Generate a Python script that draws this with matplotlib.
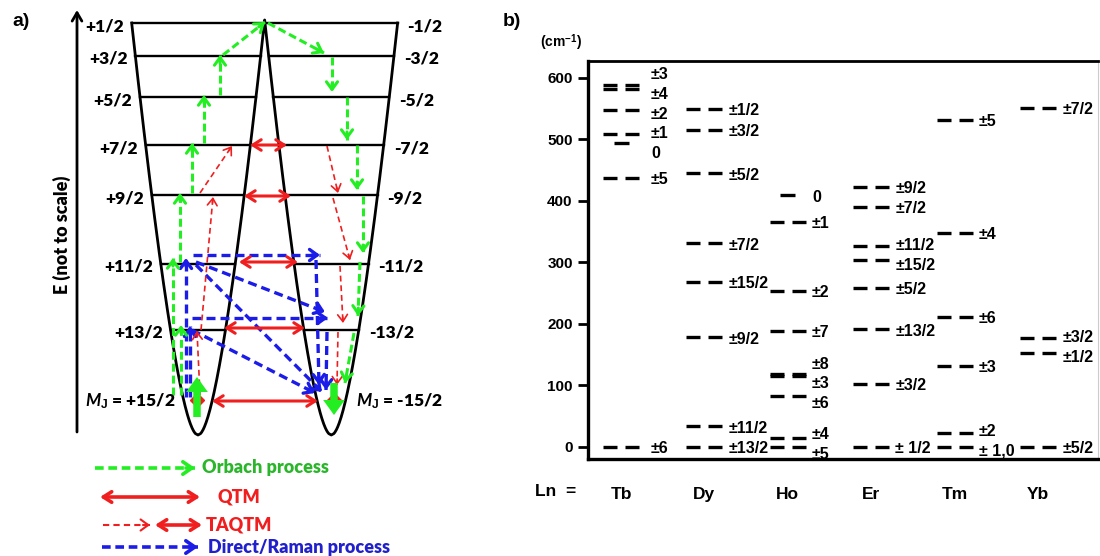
import matplotlib.pyplot as plt
import numpy as np

plt.rcParams['font.family'] = 'Liberation Sans'
plt.rcParams['font.weight'] = 'bold'
plt.rcParams['mathtext.fontset'] = 'custom'
plt.rcParams['mathtext.rm'] = 'Liberation Sans:bold'
plt.rcParams['mathtext.bf'] = 'Liberation Sans:bold'
plt.rcParams['mathtext.it'] = 'Lato:bold:italic'

# ---------------- b) crystal-field splitting per ion (cm-1) ----------------
ions = ['Tb', 'Dy', 'Ho', 'Er', 'Tm', 'Yb']
tb_E = [588, 582, 548, 509, 494, 437, 0]
tb_mj = ['±3', '±4', '±2', '±1', '0', '±5', '±6']
dy_E = [550, 516, 445, 331, 268, 178, 33, 0]
dy_mj = ['±1/2', '±3/2', '±5/2', '±7/2', '±15/2', '±9/2', '±11/2', '±13/2']
ho_E = [409, 366, 254, 189, 119, 115, 82, 14, 0]
ho_mj = ['0', '±1', '±2', '±7', '±8', '±3', '±6', '±4', '±5']
er_E = [423, 390, 326, 303, 259, 191, 102, 0]
er_mj = ['±9/2', '±7/2', '±11/2', '±15/2', '±5/2', '±13/2', '±3/2', '± 1/2']
tm_E = [532, 348, 211, 132, 23, 0]
tm_mj = ['±5', '±4', '±6', '±3', '±2', '± 1,0']
yb_E = [551, 177, 152, 0]
yb_mj = ['±7/2', '±3/2', '±1/2', '±5/2']
y_ticks = [0, 100, 200, 300, 400, 500, 600]

# ---------------- a) double-well scheme for Mj = +/-15/2 ground state ----------------
mj_up = ['+1/2', '+3/2', '+5/2', '+7/2', '+9/2', '+11/2', '+13/2', '+15/2']
mj_dn = ['-1/2', '-3/2', '-5/2', '-7/2', '-9/2', '-11/2', '-13/2', '-15/2']
level_h = [412, 379, 338, 290, 240, 171, 105, 37]   # not to scale

# arrows as (x0, h0, x1, h1)
orbach = [(173, 40, 173, 177), (181, 40, 181, 110), (180, 173, 180, 242),
          (192, 242, 192, 292), (204, 292, 204, 340), (220, 340, 220, 380),
          (223, 380, 265, 413), (268, 412, 324, 382), (332, 378, 332, 343),
          (347, 338, 347, 295), (357, 290, 357, 245), (363, 239, 363, 182),
          (360, 173, 358, 119), (354, 102, 345, 52)]
qtm = [(250, 287, 290), (244, 291, 239), (239, 298, 173), (224, 305, 107), (212, 318, 34)]
taqtm = [(200, 40, 197, 104), (201, 105, 213, 238), (200, 242, 232, 289),
         (327, 289, 338, 242), (333, 237, 350, 175), (340, 169, 343, 112),
         (338, 103, 337, 50)]
raman = [(193, 180, 320, 180), (186, 38, 186, 177), (190, 38, 190, 109),
         (192, 117, 328, 117), (196, 173, 325, 123), (196, 170, 322, 43),
         (192, 105, 315, 42), (316, 175, 319, 50), (327, 103, 326, 45)]

GREEN = '#22ee22'
RED = '#f01e1e'
BLUE = '#1c1ce8'

fig = plt.figure(figsize=(11, 5.56), dpi=100)

# panel a: 1 unit = 1 pixel
axa = fig.add_axes([0, 0, 495 / 1100, 1])
axa.set_xlim(0, 495)
axa.set_ylim(-121, 435)
axa.axis('off')

xl, xr = 198.0, 331.3


def half_width(h):
    return 0.0585 * h + 2.08 * np.sqrt(h)


def dash_arrow(x0, y0, x1, y1, color, lw, dash, head=7, hl=0.55, hw=0.4):
    axa.plot([x0, x1], [y0, y1], color=color, lw=lw, dashes=dash,
             dash_capstyle='butt')
    d = np.hypot(x1 - x0, y1 - y0)
    ux, uy = (x1 - x0) / d, (y1 - y0) / d
    axa.annotate('', xy=(x1, y1), xytext=(x1 - ux * head, y1 - uy * head),
                 arrowprops=dict(arrowstyle='->,head_length=%g,head_width=%g' % (hl, hw),
                                 color=color, lw=lw, shrinkA=0, shrinkB=0))


def double_arrow(x0, x1, y, lw=2.2):
    axa.annotate('', xy=(x1, y), xytext=(x0, y),
                 arrowprops=dict(arrowstyle='<->,head_length=0.6,head_width=0.38',
                                 color=RED, lw=lw, shrinkA=0, shrinkB=0))


# wall of the double well
h_top = 412
h_grid = np.linspace(0, 430, 2000)
h_peak = np.interp((xr - xl) / 2, half_width(h_grid), h_grid)
hh = np.linspace(0, h_top, 300)
hp = np.linspace(0, h_peak, 300)
wall_x = np.concatenate([xl - half_width(hh[::-1]), xl + half_width(hp),
                         xr - half_width(hp[::-1]), xr + half_width(hh)])
wall_y = np.concatenate([hh[::-1], hp, hp[::-1], hh])
axa.plot(wall_x, wall_y, color='black', lw=2.0)

# levels
for i, h in enumerate(level_h):
    w = half_width(h)
    if i == 0:
        axa.plot([xl - w, xr + w], [h, h], color='black', lw=1.7)
    elif i < len(level_h) - 1:
        axa.plot([xl - w, xl + w], [h, h], color='black', lw=1.7)
        axa.plot([xr - w, xr + w], [h, h], color='black', lw=1.7)
    if i < len(level_h) - 1:
        lt, rt = mj_up[i], mj_dn[i]
    else:
        lt = r'$M_{\mathrm{J}}$ = ' + mj_up[i]
        rt = r'$M_{\mathrm{J}}$ = ' + mj_dn[i]
    axa.text(xl - w - 8, h - 3, lt, ha='right', va='center', fontsize=12.5,
             family='Lato', fontweight='heavy')
    axa.text(xr + w + 10, h - 3, rt, ha='left', va='center', fontsize=12.5,
             family='Lato', fontweight='heavy')

# energy axis
axa.annotate('', xy=(77, 425), xytext=(77, 3),
             arrowprops=dict(arrowstyle='->,head_length=0.6,head_width=0.35',
                             color='black', lw=2, shrinkA=0, shrinkB=0))
axa.text(62, 200, 'E (not to scale)', rotation=90, ha='center', va='center',
         fontsize=13, family='Lato', fontweight='heavy')
axa.text(12, 413, 'a)', ha='left', va='center', fontsize=14, fontweight='bold')

# relaxation paths
for x0, y0, x1, y1 in raman:
    dash_arrow(x0, y0, x1, y1, BLUE, 2.4, (2.7, 1.5), head=8)
for x0, y0, x1, y1 in taqtm:
    dash_arrow(x0, y0, x1, y1, RED, 1.2, (3.5, 2.3), head=6, hl=0.5, hw=0.35)
for x0, x1, y in qtm:
    double_arrow(x0, x1, y)
for x0, y0, x1, y1 in orbach:
    dash_arrow(x0, y0, x1, y1, GREEN, 2.2, (2.6, 1.3), head=8)

for x, y0, y1 in [(197, 18, 58), (334, 52, 20)]:
    axa.annotate('', xy=(x, y1), xytext=(x, y0),
                 arrowprops=dict(arrowstyle='simple,head_length=0.9,head_width=1.3,tail_width=0.45',
                                 mutation_scale=12, color=GREEN, lw=0, shrinkA=0, shrinkB=0))
axa.plot([197, 334], [35, 35], ls='none', marker='D', ms=7, color=RED, zorder=1)

# legend
dash_arrow(95, -33, 195, -33, GREEN, 2.6, (2.4, 1.3), head=9, hl=0.65, hw=0.45)
axa.text(202, -33, 'Orbach process', color='#2bb52b', va='center', fontsize=13,
         family='Lato', fontweight='heavy')
double_arrow(100, 200, -62, lw=2.6)
axa.text(217, -62, 'QTM', color=RED, va='center', fontsize=13, family='Lato', fontweight='heavy')
dash_arrow(103, -90, 150, -90, RED, 1.5, (3, 2), head=7, hl=0.55, hw=0.4)
double_arrow(155, 202, -90, lw=2.6)
axa.text(206, -90, 'TAQTM', color=RED, va='center', fontsize=13, family='Lato', fontweight='heavy')
dash_arrow(102, -112, 198, -112, BLUE, 2.6, (2.4, 1.3), head=9, hl=0.65, hw=0.45)
axa.text(208, -112, 'Direct/Raman process', color='#2020cc', va='center', fontsize=13,
         family='Lato', fontweight='heavy')

# ---------------- panel b ----------------
axb = fig.add_axes([588 / 1100, 1 - 459 / 556, 510 / 1100, 398 / 556])
axb.set_xlim(-0.396, 5.72)
axb.set_ylim(-20, 627.6)


def spread(vals, gap):
    order = np.argsort(vals)[::-1]
    groups = []
    for i in order:
        groups.append([vals[i]])
        while len(groups) > 1:
            a, b = groups[-2], groups[-1]
            low_a = np.mean(a) - (len(a) - 1) * gap / 2
            high_b = np.mean(b) + (len(b) - 1) * gap / 2
            if low_a - high_b < gap:
                groups[-2:] = [a + b]
            else:
                break
    pos = []
    for g in groups:
        c = np.mean(g)
        pos += [c + (len(g) - 1) * gap / 2 - k * gap for k in range(len(g))]
    out = np.empty(len(vals))
    out[order] = pos
    return out


all_E = [tb_E, dy_E, ho_E, er_E, tm_E, yb_E]
all_mj = [tb_mj, dy_mj, ho_mj, er_mj, tm_mj, yb_mj]
for k, (E, mj) in enumerate(zip(all_E, all_mj)):
    for e, m in zip(E, mj):
        if m == '0':
            axb.hlines(e, k - 0.09, k + 0.09, color='black', lw=2.4)
        else:
            axb.hlines([e, e], [k - 0.216, k + 0.048], [k - 0.048, k + 0.216],
                       color='black', lw=2.4)
    off = 0.36 if k == 0 else 0.29
    for y, m in zip(spread(E, 32), mj):
        axb.text(k + off, y - 3, m, ha='left', va='center', fontsize=11.5, fontweight='bold')

axb.set_yticks(y_ticks)
axb.set_xticks(range(len(ions)))
axb.set_xticklabels(ions, fontsize=12.5, fontweight='bold')
axb.tick_params(axis='x', length=0, pad=20)
axb.tick_params(axis='y', direction='out', length=7, width=2, labelsize=11, pad=4)
for lbl in axb.get_yticklabels():
    lbl.set_fontweight('bold')
for s in ['left', 'bottom']:
    axb.spines[s].set_linewidth(2.4)
axb.spines['top'].set_linewidth(2.0)
axb.spines['right'].set_linewidth(0.8)
axb.spines['right'].set_color('#cccccc')

fig.text(535 / 1100, 1 - 492 / 556, 'Ln  =', fontsize=12.5, fontweight='bold', va='center')
fig.text(540 / 1100, 1 - 43 / 556, r'(cm$^{-1}$)', fontsize=10, fontweight='bold', va='center')
fig.text(503 / 1100, 1 - 22 / 556, 'b)', fontsize=14, fontweight='bold', va='center')

fig.savefig('out.png', dpi=100)
